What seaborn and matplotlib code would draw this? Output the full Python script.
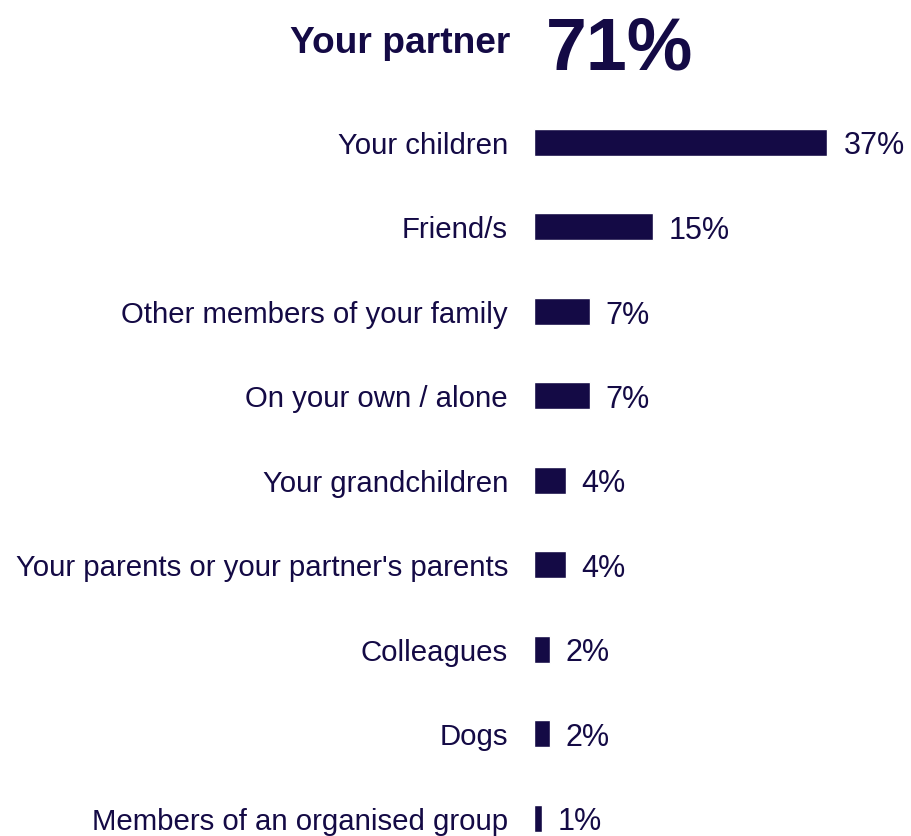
import matplotlib
matplotlib.use("Agg")
import matplotlib.pyplot as plt
import seaborn as sns
import pandas as pd

# Who people spend time with (share of respondents, %)
headline_label = "Your partner"
headline_value = 71

categories = [
    "Your children",
    "Friend/s",
    "Other members of your family",
    "On your own / alone",
    "Your grandchildren",
    "Your parents or your partner's parents",
    "Colleagues",
    "Dogs",
    "Members of an organised group",
]
values = [37, 15, 7, 7, 4, 4, 2, 2, 1]

NAVY = "#140a45"
W, H, DPI = 912, 837, 100

sns.set_theme(style="white")
plt.rcParams["font.family"] = ["Liberation Sans", "DejaVu Sans"]

df = pd.DataFrame({"category": categories, "value": values})

fig = plt.figure(figsize=(W / DPI, H / DPI), dpi=DPI)

# axes geometry in pixels
ax_left, ax_right = 534, 912
row_first, row_last = 143, 819
row_step = (row_last - row_first) / (len(categories) - 1)
ax_top = row_first - 0.5 * row_step
ax_bottom = H
ax = fig.add_axes([ax_left / W, 1 - ax_bottom / H,
                   (ax_right - ax_left) / W, (ax_bottom - ax_top) / H])

sns.barplot(data=df, x="value", y="category", orient="h", color=NAVY,
            saturation=1, width=27 / row_step, ax=ax)

px_per_unit = 7.93
ax.set_xlim(0, (ax_right - ax_left) / px_per_unit)
ax.set_ylim(len(categories) - 1 + (ax_bottom - row_last) / row_step, -0.5)

for c in ax.containers:
    texts = ax.bar_label(c, labels=[f"{v}%" for v in values], padding=11.5,
                         fontsize=22, color=NAVY)
    for t in texts:
        t.set_verticalalignment("center_baseline")

ax.set_xlabel("")
ax.set_ylabel("")
ax.set_xticks([])
ax.tick_params(axis="y", length=0, pad=18.7, labelsize=21.2, labelcolor=NAVY)
for lbl in ax.get_yticklabels():
    lbl.set_verticalalignment("center_baseline")
for s in ax.spines.values():
    s.set_visible(False)

# headline row
fig.text(510 / W, 1 - 53 / H, headline_label, ha="right", va="baseline",
         fontsize=26.7, fontweight="bold", color=NAVY)
fig.text(546 / W, 1 - 69 / H, f"{headline_value}%", ha="left", va="baseline",
         fontsize=53, fontweight="bold", color=NAVY)

fig.savefig("out.png", dpi=DPI, facecolor="white")
